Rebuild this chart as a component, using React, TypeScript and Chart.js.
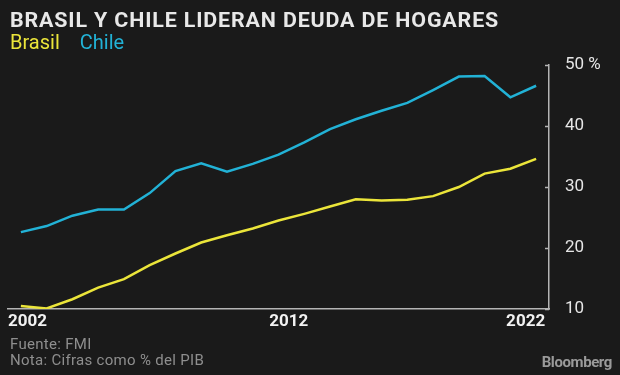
import React, { useEffect, useRef } from "react";
import { Chart, registerables } from "chart.js";

Chart.register(...registerables);

const years = [2002, 2003, 2004, 2005, 2006, 2007, 2008, 2009, 2010, 2011, 2012, 2013, 2014, 2015, 2016, 2017, 2018, 2019, 2020, 2021, 2022];
const brasil = [10.5, 10.1, 11.6, 13.5, 14.9, 17.2, 19.1, 20.9, 22.1, 23.2, 24.5, 25.6, 26.8, 28.0, 27.8, 27.9, 28.5, 30.0, 32.2, 33.0, 34.6];
const chile = [22.6, 23.6, 25.3, 26.3, 26.3, 29.0, 32.6, 33.9, 32.5, 33.8, 35.3, 37.3, 39.5, 41.1, 42.5, 43.8, 45.9, 48.1, 48.2, 44.7, 46.6];
const xTickValues = [2001.5, 2012.4, 2022.35];
const xTickLabels = ["2002", "2012", "2022"];
const yTicks = [10, 20, 30, 40, 50];

const BG = "#1a1a1a";
const YELLOW = "#ebe53a";
const CYAN = "#22b2d6";
const FONT = "Roboto, 'Noto Sans', sans-serif";

const innerTicks = {
  id: "innerTicks",
  afterDraw(chart: any) {
    const { ctx, chartArea, scales } = chart;
    const y = scales.y;
    ctx.save();
    ctx.strokeStyle = "#b4b4b4";
    ctx.lineWidth = 1.5;
    y.ticks.forEach((t: any) => {
      const py = Math.round(y.getPixelForValue(t.value)) + 0.5;
      ctx.beginPath();
      ctx.moveTo(chartArea.right - 4, py);
      ctx.lineTo(chartArea.right, py);
      ctx.stroke();
    });
    ctx.restore();
  },
};

export default function App() {
  const ref = useRef<HTMLCanvasElement>(null);
  useEffect(() => {
    document.body.style.margin = "0";
    document.body.style.background = BG;
    const chart = new Chart(ref.current!, {
      type: "line",
      data: {
        datasets: [
          {
            label: "Chile",
            data: years.map((yr, i) => ({ x: yr, y: chile[i] })),
            borderColor: CYAN,
            borderWidth: 2.5,
            pointRadius: 0,
            tension: 0,
          },
          {
            label: "Brasil",
            data: years.map((yr, i) => ({ x: yr, y: brasil[i] })),
            borderColor: YELLOW,
            borderWidth: 2.5,
            pointRadius: 0,
            tension: 0,
          },
        ],
      },
      options: {
        responsive: false,
        animation: false,
        devicePixelRatio: 1,
        layout: { padding: { left: 8, top: 65, right: 0, bottom: 0 } },
        plugins: { legend: { display: false }, tooltip: { enabled: false }, title: { display: false } },
        scales: {
          x: {
            type: "linear",
            min: 2001.5,
            max: 2022.5,
            afterBuildTicks: (scale: any) => {
              scale.ticks = xTickValues.map((v) => ({ value: v }));
            },
            afterFit: (scale: any) => {
              scale.height = 66;
            },
            grid: { display: false, drawTicks: false },
            border: { display: true, color: "#b4b4b4", width: 1.5 },
            ticks: {
              align: "inner",
              maxRotation: 0,
              autoSkip: false,
              padding: 3,
              color: "#f2f2f2",
              font: { family: FONT, size: 17, weight: "bold" },
              callback: (_v: any, i: number) => xTickLabels[i],
            },
          },
          y: {
            type: "linear",
            position: "right",
            min: 10,
            max: 50,
            afterBuildTicks: (scale: any) => {
              scale.ticks = yTicks.map((v) => ({ value: v }));
            },
            afterFit: (scale: any) => {
              scale.width = 71;
            },
            grid: { display: false, drawTicks: false },
            border: { display: true, color: "#b4b4b4", width: 1.5 },
            ticks: {
              padding: 16,
              color: "#e6e6e6",
              font: { family: FONT, size: 17 },
              callback: (v: any) => (v === 50 ? "50 %" : String(v)),
            },
          },
        },
      },
      plugins: [innerTicks],
    } as any);
    return () => chart.destroy();
  }, []);

  return (
    <div style={{ position: "relative", width: 620, height: 375, background: BG, overflow: "hidden", fontFamily: FONT }}>
      <canvas ref={ref} width={620} height={375} style={{ position: "absolute", left: 0, top: 0 }} />
      <div
        style={{
          position: "absolute",
          left: 10,
          top: 8,
          color: "#e8e8e8",
          fontSize: 20,
          fontWeight: "bold",
          letterSpacing: 0.8,
          lineHeight: "24px",
          whiteSpace: "nowrap",
          transform: "scaleX(1.07)",
          transformOrigin: "left top",
        }}
      >
        BRASIL Y CHILE LIDERAN DEUDA DE HOGARES
      </div>
      <div style={{ position: "absolute", left: 10, top: 30, fontSize: 20, lineHeight: "24px", whiteSpace: "nowrap" }}>
        <span style={{ color: YELLOW }}>Brasil</span>
        <span style={{ color: CYAN, marginLeft: 20 }}>Chile</span>
      </div>
      <div style={{ position: "absolute", left: 10, top: 337, color: "#8e8e8e", fontSize: 15, letterSpacing: 0.3, lineHeight: "15.5px", whiteSpace: "nowrap" }}>
        <div>Fuente: FMI</div>
        <div>Nota: Cifras como % del PIB</div>
      </div>
      <div style={{ position: "absolute", right: 8, top: 354, color: "#9a9a9a", fontSize: 15, fontWeight: "bold", lineHeight: "17px", letterSpacing: -0.4, whiteSpace: "nowrap" }}>
        Bloomberg
      </div>
    </div>
  );
}
